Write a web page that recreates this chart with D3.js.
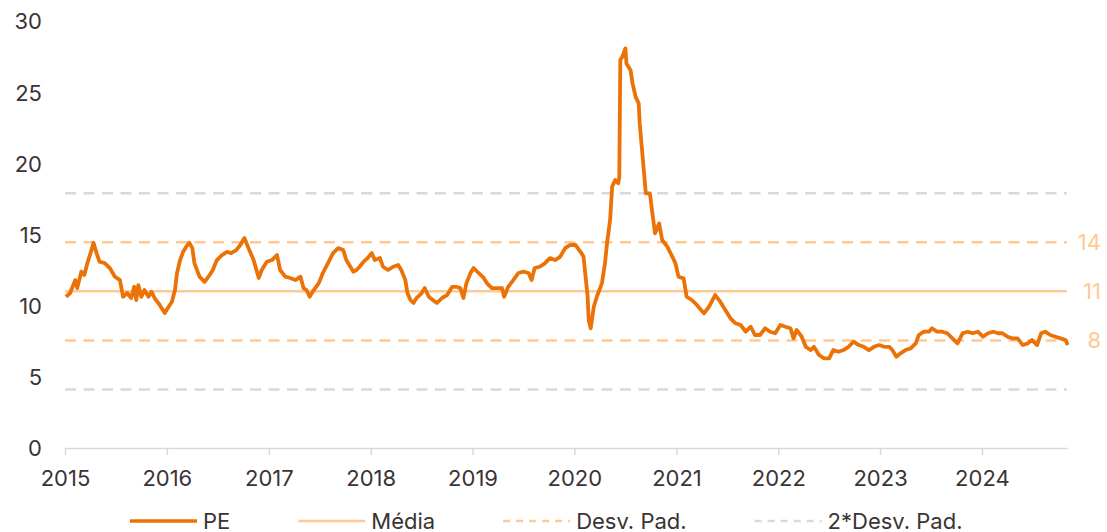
<!DOCTYPE html>
<html>
<head>
<meta charset="utf-8">
<script src="https://cdn.jsdelivr.net/npm/d3@7"></script>
<style>
  body { margin: 0; background: #fff; }
  svg text { font-family: Inter, "Noto Sans", sans-serif; font-size: 22px; fill: #3a3434; }
</style>
</head>
<body>
<svg width="1107" height="532"></svg>
<script>
// PE series: time as decimal year
const peTimes = [
  2015.01, 2015.05, 2015.10, 2015.12, 2015.16, 2015.19, 2015.22, 2015.26, 2015.28, 2015.31,
  2015.34, 2015.39, 2015.44, 2015.49, 2015.54, 2015.57, 2015.61, 2015.65, 2015.68, 2015.70,
  2015.72, 2015.75, 2015.78, 2015.82, 2015.85, 2015.88, 2015.93, 2015.98, 2016.01, 2016.05,
  2016.08, 2016.10, 2016.13, 2016.16, 2016.19, 2016.22, 2016.25, 2016.27, 2016.32, 2016.37,
  2016.42, 2016.45, 2016.49, 2016.54, 2016.59, 2016.63, 2016.68, 2016.72, 2016.76, 2016.80,
  2016.85, 2016.90, 2016.93, 2016.98, 2017.03, 2017.08, 2017.11, 2017.16, 2017.21, 2017.26,
  2017.31, 2017.34, 2017.37, 2017.40, 2017.44, 2017.49, 2017.53, 2017.58, 2017.63, 2017.68,
  2017.73, 2017.76, 2017.80, 2017.83, 2017.86, 2017.89, 2017.93, 2017.98, 2018.01, 2018.04,
  2018.09, 2018.12, 2018.17, 2018.22, 2018.27, 2018.30, 2018.34, 2018.36, 2018.39, 2018.42,
  2018.45, 2018.50, 2018.53, 2018.57, 2018.61, 2018.65, 2018.70, 2018.75, 2018.80, 2018.84,
  2018.88, 2018.91, 2018.94, 2018.98, 2019.01, 2019.06, 2019.11, 2019.14, 2019.19, 2019.24,
  2019.29, 2019.31, 2019.35, 2019.40, 2019.45, 2019.50, 2019.55, 2019.58, 2019.61, 2019.66,
  2019.71, 2019.76, 2019.81, 2019.86, 2019.91, 2019.96, 2020.01, 2020.06, 2020.09, 2020.11,
  2020.13, 2020.14, 2020.16, 2020.19, 2020.22, 2020.27, 2020.30, 2020.32, 2020.35, 2020.37,
  2020.40, 2020.43, 2020.44, 2020.45, 2020.47, 2020.50, 2020.51, 2020.55, 2020.57, 2020.60,
  2020.63, 2020.64, 2020.66, 2020.68, 2020.70, 2020.74, 2020.76, 2020.79, 2020.83, 2020.86,
  2020.91, 2020.96, 2020.99, 2021.02, 2021.07, 2021.10, 2021.15, 2021.20, 2021.27, 2021.32,
  2021.38, 2021.43, 2021.48, 2021.53, 2021.58, 2021.63, 2021.68, 2021.73, 2021.77, 2021.82,
  2021.87, 2021.92, 2021.97, 2022.02, 2022.07, 2022.12, 2022.15, 2022.18, 2022.23, 2022.27,
  2022.32, 2022.35, 2022.40, 2022.45, 2022.50, 2022.54, 2022.59, 2022.64, 2022.69, 2022.74,
  2022.79, 2022.84, 2022.89, 2022.94, 2022.99, 2023.04, 2023.09, 2023.12, 2023.16, 2023.20,
  2023.25, 2023.30, 2023.35, 2023.38, 2023.43, 2023.48, 2023.51, 2023.56, 2023.61, 2023.66,
  2023.71, 2023.76, 2023.81, 2023.86, 2023.91, 2023.96, 2024.01, 2024.06, 2024.11, 2024.16,
  2024.20, 2024.25, 2024.30, 2024.35, 2024.40, 2024.45, 2024.49, 2024.54, 2024.58, 2024.62,
  2024.67, 2024.72, 2024.77, 2024.82, 2024.84
];
const peValues = [
  10.64, 10.90, 11.81, 11.25, 12.40, 12.17, 13.01, 13.92, 14.44, 13.71,
  13.10, 13.01, 12.66, 12.05, 11.81, 10.64, 10.90, 10.55, 11.34, 10.41,
  11.46, 10.64, 11.11, 10.64, 10.99, 10.55, 10.06, 9.49, 9.85, 10.29,
  11.11, 12.31, 13.22, 13.80, 14.16, 14.44, 14.06, 13.01, 12.05, 11.69,
  12.17, 12.52, 13.22, 13.57, 13.80, 13.71, 13.92, 14.28, 14.77, 14.06,
  13.22, 11.96, 12.52, 13.10, 13.22, 13.57, 12.52, 12.05, 11.96, 11.81,
  12.05, 11.25, 11.11, 10.64, 11.11, 11.60, 12.31, 13.01, 13.71, 14.06,
  13.92, 13.22, 12.75, 12.40, 12.52, 12.75, 13.10, 13.45, 13.71, 13.22,
  13.36, 12.75, 12.52, 12.75, 12.87, 12.52, 11.81, 10.90, 10.41, 10.20,
  10.55, 10.90, 11.25, 10.64, 10.41, 10.20, 10.55, 10.76, 11.34, 11.34,
  11.25, 10.55, 11.60, 12.31, 12.66, 12.31, 11.96, 11.60, 11.25, 11.25,
  11.25, 10.64, 11.34, 11.81, 12.31, 12.40, 12.31, 11.81, 12.66, 12.75,
  12.99, 13.36, 13.22, 13.45, 14.06, 14.28, 14.28, 13.80, 13.45, 12.05,
  10.64, 9.00, 8.42, 9.94, 10.64, 11.60, 12.99, 14.40, 16.03, 18.38,
  18.85, 18.62, 19.08, 27.29, 27.52, 28.11, 27.05, 26.58, 25.65, 24.70,
  24.24, 22.83, 21.19, 19.55, 17.91, 17.91, 16.74, 15.10, 15.80, 14.63,
  14.16, 13.45, 12.99, 12.05, 11.93, 10.64, 10.41, 10.06, 9.47, 9.94,
  10.76, 10.29, 9.70, 9.12, 8.77, 8.65, 8.18, 8.53, 7.95, 7.95,
  8.42, 8.18, 8.07, 8.65, 8.53, 8.42, 7.71, 8.30, 7.83, 7.12,
  6.89, 7.12, 6.54, 6.31, 6.31, 6.89, 6.77, 6.89, 7.12, 7.48,
  7.24, 7.12, 6.89, 7.12, 7.24, 7.12, 7.12, 6.89, 6.42, 6.66,
  6.89, 7.01, 7.36, 7.95, 8.18, 8.18, 8.42, 8.18, 8.18, 8.07,
  7.71, 7.36, 8.07, 8.18, 8.07, 8.18, 7.83, 8.07, 8.18, 8.07,
  8.07, 7.83, 7.71, 7.71, 7.24, 7.36, 7.59, 7.24, 8.07, 8.18,
  7.95, 7.83, 7.71, 7.59, 7.24
];

// Reference levels
const peMean = 11.02;
const peStd = 3.45;

const yTicks = [0, 5, 10, 15, 20, 25, 30];
const legendLabels = ["PE", "Média", "Desv. Pad.", "2*Desv. Pad."];

const colors = {
    pe: "#ea7206",
    light: "#ffc995",
    gray: "#d9d9d9"
};

// decimal year -> Date
function toDate(t) {
    const yr = Math.floor(t);
    const a = new Date(yr, 0, 1), b = new Date(yr + 1, 0, 1);
    return new Date(+a + (t - yr) * (b - a));
}

const data = peTimes.map((t, i) => ({ date: toDate(t), value: peValues[i] }));

const svg = d3.select("svg");
const left = 65, right = 1067;

const x = d3.scaleTime()
    .domain([new Date(2015, 0, 1), new Date(2024, 10, 1)])
    .range([left, right]);

const y = d3.scaleLinear()
    .domain([0, 30])
    .range([448, 21.5]);

// y labels (no axis line)
svg.append("g")
    .selectAll("text")
    .data(yTicks)
    .join("text")
    .attr("x", 42)
    .attr("y", d => y(d))
    .attr("dy", "0.36em")
    .attr("text-anchor", "end")
    .text(d => d);

// x axis
const xAxis = svg.append("g")
    .attr("transform", `translate(0,${y(0)})`)
    .call(d3.axisBottom(x)
        .ticks(d3.timeYear.every(1))
        .tickFormat(d3.timeFormat("%Y"))
        .tickSize(7)
        .tickSizeOuter(0)
        .tickPadding(0));
xAxis.select(".domain").attr("stroke", colors.gray).attr("stroke-width", 1.5);
xAxis.selectAll(".tick line").attr("stroke", colors.gray).attr("stroke-width", 1.5);
xAxis.selectAll(".tick text")
    .attr("y", 38)
    .attr("dy", null)
    .style("font-size", "22px")
    .style("font-family", "Inter, sans-serif")
    .attr("fill", "#3a3434");

// reference lines
const refLines = [
    { v: peMean + 2 * peStd, color: colors.gray, dash: "11,7.5" },
    { v: peMean - 2 * peStd, color: colors.gray, dash: "11,7.5" },
    { v: peMean + peStd, color: colors.light, dash: "11,7.5", label: true },
    { v: peMean - peStd, color: colors.light, dash: "11,7.5", label: true },
    { v: peMean, color: colors.light, dash: null, label: true }
];

svg.append("g")
    .selectAll("line")
    .data(refLines)
    .join("line")
    .attr("x1", left)
    .attr("x2", right)
    .attr("y1", d => y(d.v))
    .attr("y2", d => y(d.v))
    .attr("stroke", d => d.color)
    .attr("stroke-width", 2.5)
    .attr("stroke-dasharray", d => d.dash);

svg.append("g")
    .selectAll("text")
    .data(refLines.filter(d => d.label))
    .join("text")
    .attr("x", 1101)
    .attr("y", d => y(d.v))
    .attr("dy", "0.36em")
    .attr("text-anchor", "end")
    .style("fill", colors.light)
    .text(d => Math.round(d.v));

// PE line
svg.append("path")
    .datum(data)
    .attr("fill", "none")
    .attr("stroke", colors.pe)
    .attr("stroke-width", 3.8)
    .attr("stroke-linejoin", "round")
    .attr("d", d3.line().x(d => x(d.date)).y(d => y(d.value)));

// legend
const legendStyles = [
    { color: colors.pe, dash: null, width: 3.5 },
    { color: colors.light, dash: null, width: 2.5 },
    { color: colors.light, dash: "7,6", width: 2.5 },
    { color: colors.gray, dash: "7,6", width: 2.5 }
];
const legend = svg.append("g");
let lx = 130;
legendLabels.forEach((name, i) => {
    const st = legendStyles[i];
    legend.append("line")
        .attr("x1", lx).attr("x2", lx + 67)
        .attr("y1", 521).attr("y2", 521)
        .attr("stroke", st.color)
        .attr("stroke-width", st.width)
        .attr("stroke-dasharray", st.dash);
    const t = legend.append("text")
        .attr("x", lx + 73)
        .attr("y", 529)
        .text(name);
    lx += 73 + t.node().getComputedTextLength() + 68;
});
</script>
</body>
</html>
